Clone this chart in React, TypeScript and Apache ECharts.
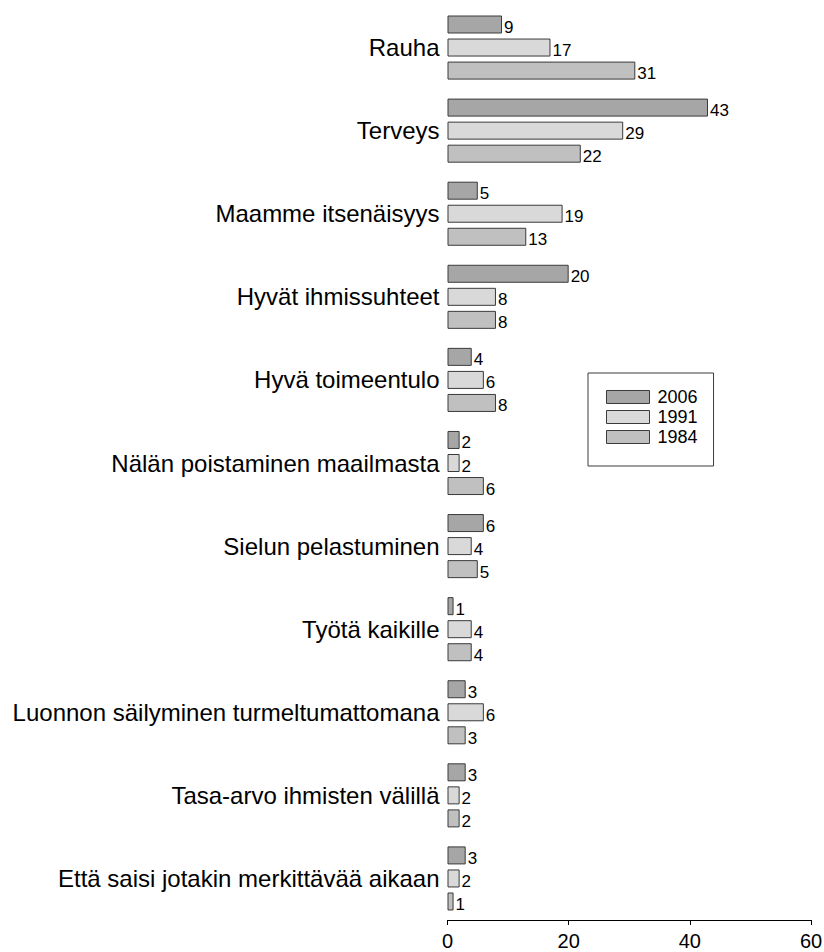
import React, { useEffect, useRef } from "react";
import * as echarts from "echarts";

const categories = [
  "Rauha",
  "Terveys",
  "Maamme itsenäisyys",
  "Hyvät ihmissuhteet",
  "Hyvä toimeentulo",
  "Nälän poistaminen maailmasta",
  "Sielun pelastuminen",
  "Työtä kaikille",
  "Luonnon säilyminen turmeltumattomana",
  "Tasa-arvo ihmisten välillä",
  "Että saisi jotakin merkittävää aikaan",
];

const seriesNames = ["2006", "1991", "1984"];
const values2006 = [9, 43, 5, 20, 4, 2, 6, 1, 3, 3, 3];
const values1991 = [17, 29, 19, 8, 6, 2, 4, 4, 6, 2, 2];
const values1984 = [31, 22, 13, 8, 8, 6, 5, 4, 3, 2, 1];
const seriesColors = ["#a6a6a6", "#d9d9d9", "#c0c0c0"];

const xTicks = { min: 0, max: 60, interval: 20 };

const FONT = "'Liberation Sans', Arial, sans-serif";

export default function App() {
  const ref = useRef<HTMLDivElement>(null);

  useEffect(() => {
    if (!ref.current) return;
    const chart = echarts.init(ref.current, undefined, { renderer: "svg" });
    const allValues = [values2006, values1991, values1984];
    const series = seriesNames.map((name, i) => ({
      name,
      type: "bar" as const,
      data: allValues[i],
      barWidth: 18,
      barGap: "28%",
      itemStyle: {
        color: seriesColors[i],
        borderColor: "#3a3a3a",
        borderWidth: 1,
      },
      label: {
        show: true,
        position: "right" as const,
        distance: 2,
        offset: [0, 3],
        color: "#000",
        fontSize: 17,
        fontFamily: FONT,
      },
    }));

    chart.setOption({
      animation: false,
      backgroundColor: "#ffffff",
      textStyle: { fontFamily: FONT },
      grid: {
        left: 447.5,
        right: 13,
        top: 6,
        bottom: 32,
        containLabel: false,
        outerBoundsMode: "none",
      },
      legend: {
        orient: "vertical",
        left: 588,
        top: 373,
        data: seriesNames,
        itemWidth: 43,
        itemHeight: 13,
        itemGap: 2,
        padding: [15, 16, 20, 18],
        borderColor: "#3a3a3a",
        borderWidth: 1,
        icon: "rect",
        textStyle: {
          fontSize: 18,
          color: "#000",
          fontFamily: FONT,
          padding: [0, 0, 0, 3],
        },
        itemStyle: { borderColor: "#3a3a3a", borderWidth: 1 },
      },
      xAxis: {
        type: "value",
        min: xTicks.min,
        max: xTicks.max,
        interval: xTicks.interval,
        axisLine: { show: true, lineStyle: { color: "#000", width: 1 } },
        axisTick: { show: true, length: 5, lineStyle: { color: "#000" } },
        splitLine: { show: false },
        axisLabel: {
          color: "#000",
          fontSize: 20,
          margin: 11,
          fontFamily: FONT,
        },
      },
      yAxis: {
        type: "category",
        data: categories,
        inverse: true,
        axisLine: { show: false },
        axisTick: { show: false },
        splitLine: { show: false },
        axisLabel: {
          color: "#000",
          fontSize: 24,
          margin: 8,
          fontFamily: FONT,
        },
      },
      series,
    });
    return () => chart.dispose();
  }, []);

  return (
    <div
      ref={ref}
      style={{ position: "fixed", left: 0, top: 0, width: 824, height: 952 }}
    />
  );
}
